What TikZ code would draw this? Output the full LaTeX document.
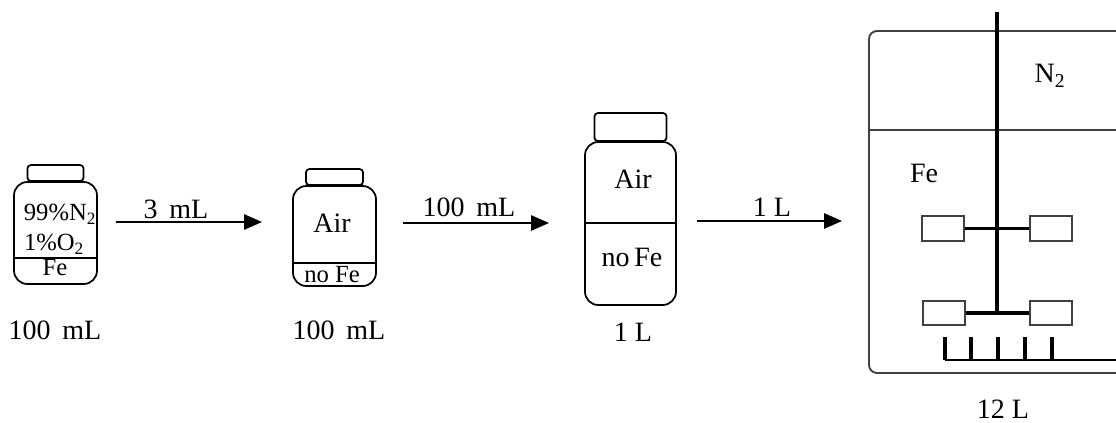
\documentclass[tikz,border=0pt]{standalone}
\usepackage{fontspec}
\setmainfont{Liberation Serif}
\usetikzlibrary{positioning,arrows.meta}
\definecolor{tankgray}{HTML}{404040}
\tikzset{jar body/.style={draw,line width=1.3pt,rounded corners=10pt,inner sep=0pt},}
\tikzset{jar cap/.style={draw,line width=1.3pt,rounded corners=2.5pt,inner sep=0pt},}
\tikzset{blade node/.style={draw=tankgray,line width=1.5pt,minimum width=31.5pt,minimum height=18.5pt,inner sep=0pt},}
\tikzset{label node/.style={inner sep=0pt,anchor=base,font=\fontsize{21}{25}\selectfont},}
\tikzset{small node/.style={label node,font=\fontsize{18.5}{22}\selectfont},}
\tikzset{flow/.style={line width=1.4pt,-{Triangle[length=13.5pt,width=11.5pt]}},}

\begin{document}
\begin{tikzpicture}[x=0.75pt,y=-0.75pt]
       \useasboundingbox (0,0) rectangle (1116,423);

       % bottles
       \node[jar body,minimum width=62.25pt,minimum height=76.5pt] (jar1) at (55.5,233) {};
       \node[jar cap,minimum width=42pt,minimum height=12pt] (cap1) [above = -0.6pt of jar1] {};
       \node[jar body,minimum width=62.25pt,minimum height=75pt] (jar2) at (334.5,236) {};
       \node[jar cap,minimum width=42.75pt,minimum height=12pt] (cap2) [above = -0.6pt of jar2] {};
       \node[jar body,minimum width=68.25pt,minimum height=122.25pt] (jar3) at (630.5,223.5) {};
       \node[jar cap,minimum width=54pt,minimum height=21pt] (cap3) [above = -0.6pt of jar3] {};

       \draw[line width=1.3pt] (jar1.west |- 0,258) -- (jar1.east |- 0,258);
       \draw[line width=1.3pt] (jar2.west |- 0,263) -- (jar2.east |- 0,263);
       \draw[line width=1.3pt] (jar3.west |- 0,223) -- (jar3.east |- 0,223);

       \node[small node] (gas1) at (60,221) {99\%N\textsubscript{2}};
       \node[small node] (gas2) at (54,251) {1\%O\textsubscript{2}};
       \node[small node] (fe1) at (55,276) {Fe};
       \node[label node] (vol1) at (55,340) {100 \,mL};
       \node[label node] (air2) at (332,233) {Air};
       \node[small node] (fe2) at (332,283) {no Fe};
       \node[label node] (vol2) at (339,340) {100 \,mL};
       \node[label node] (air3) at (633,189) {Air};
       \node[label node] (fe3) at (632,267) {no\,Fe};
       \node[label node] (vol3) at (633,342) {1 L};

       % transfers
       \coordinate (a1) at (116,222);
       \coordinate (b1) at (262,222);
       \coordinate (a2) at (403,223);
       \coordinate (b2) at (549,223);
       \coordinate (a3) at (697,221);
       \coordinate (b3) at (842,221);
       \draw[flow] (a1) -- (b1);
       \draw[flow] (a2) -- (b2);
       \draw[flow] (a3) -- (b3);
       \node[label node] (tr1) at (176,219) {3 \,mL};
       \node[label node] (tr2) at (469,217) {100 \,mL};
       \node[label node] (tr3) at (772,217) {1 L};

       % tank
       \draw[tankgray,line width=1.4pt,rounded corners=6pt] (1116,31) -- (869,31) -- (869,373) -- (1116,373);
       \draw[tankgray,line width=1.1pt] (869,130) -- (1116,130);
       \coordinate (top) at (997,12);
       \coordinate (hub) at (997,313);
       \draw[line width=3.2pt] (top) -- (hub);

       \node[blade node] (blade1) at (943,228.5) {};
       \node[blade node] (blade2) at (1051,228.5) {};
       \node[blade node] (blade3) at (944,313) {};
       \node[blade node] (blade4) at (1050.5,313) {};
       \draw[line width=2.2pt] (blade1) -- (blade2);
       \draw[line width=2.8pt] (blade3) -- (blade4);

       \coordinate (sparge) at (945,360);
       \coordinate (out) at (1116,360);
       \draw[line width=2pt] (sparge) -- (out);
       \draw[line width=2.4pt] (945,337) -- (945,360)
             (971,337) -- (971,360)
             (998,337) -- (998,360)
             (1025,337) -- (1025,360)
             (1052,337) -- (1052,360);

       \node[label node] (gas3) at (1050,83) {N\textsubscript{2}};
       \node[label node] (fe4) at (924,183) {Fe};
       \node[label node] (vol4) at (1003,418) {12 L};
    \end{tikzpicture}
\end{document}
